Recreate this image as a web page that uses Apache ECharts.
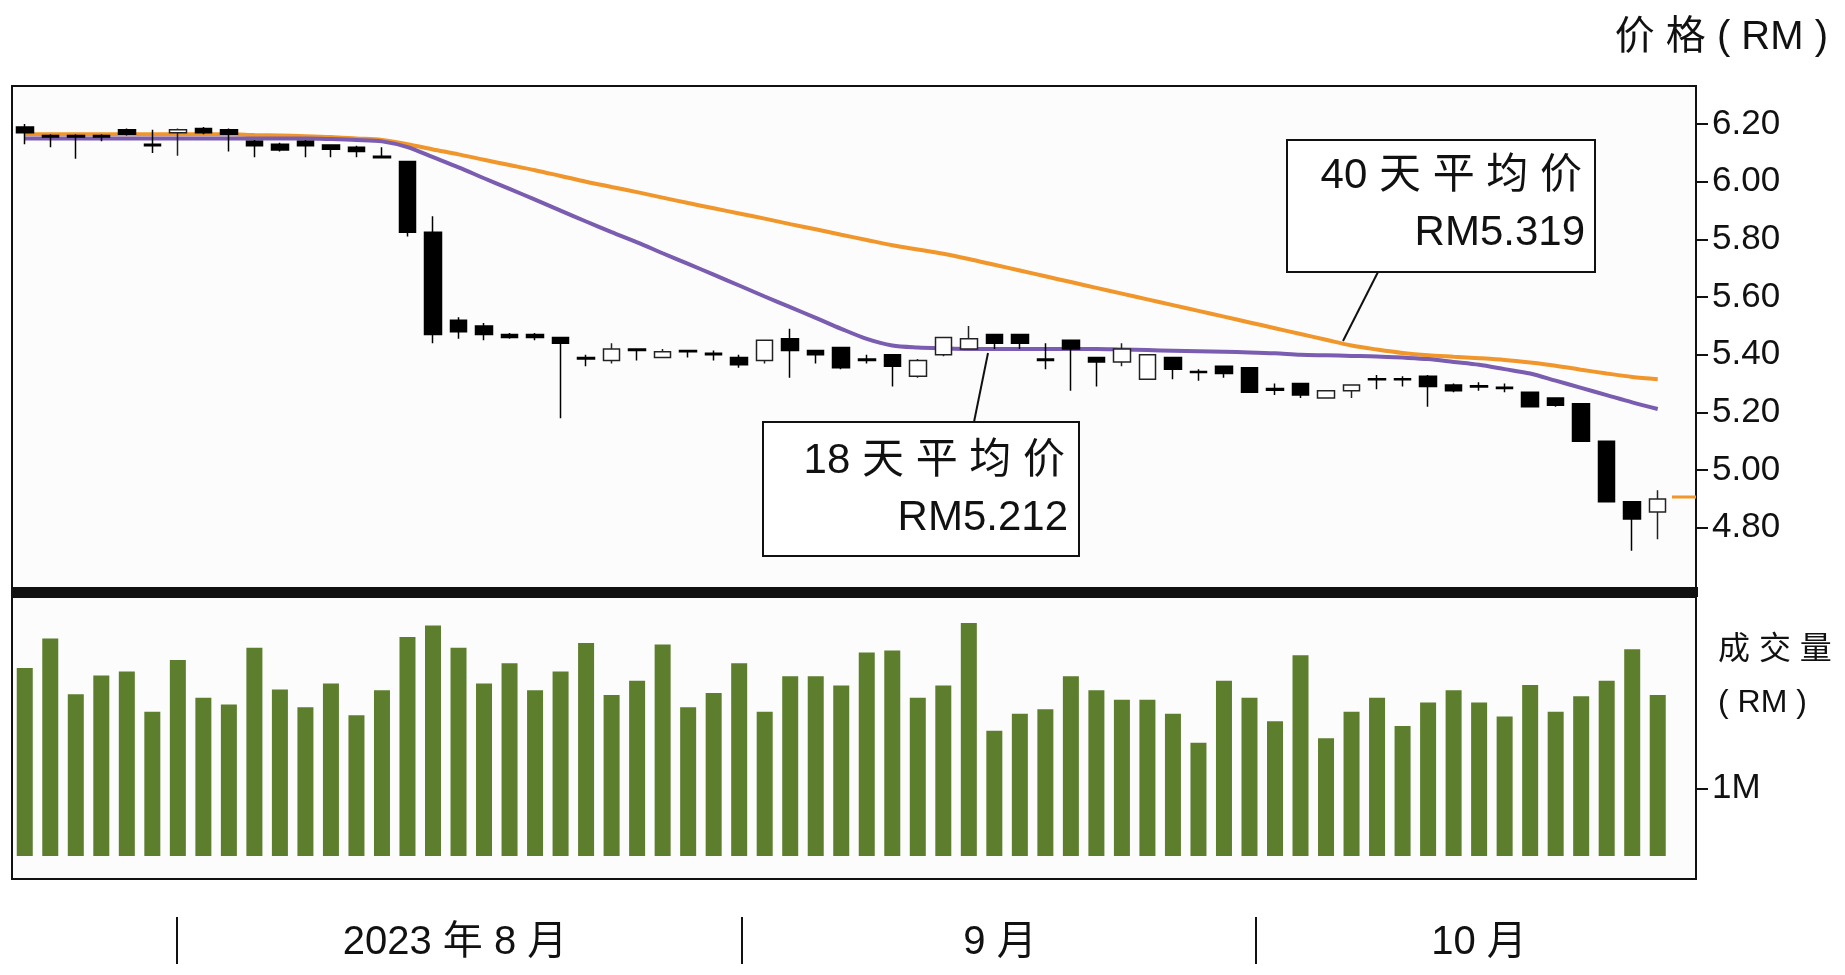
<!DOCTYPE html>
<html><head><meta charset="utf-8">
<script src="https://cdn.jsdelivr.net/npm/echarts@6/dist/echarts.min.js"></script>
<style>html,body{margin:0;padding:0;background:#fff}#c{width:1845px;height:975px}</style>
</head><body><div id="c"></div>
<script>
// [open, close, low, high]
const candles = [
[6.19,6.17,6.13,6.20],[6.16,6.155,6.12,6.165],[6.16,6.155,6.08,6.165],[6.16,6.155,6.14,6.165],[6.18,6.165,6.16,6.185],
[6.13,6.125,6.10,6.18],[6.17,6.18,6.09,6.185],[6.185,6.17,6.165,6.19],[6.18,6.165,6.105,6.185],[6.14,6.125,6.085,6.145],
[6.13,6.11,6.105,6.135],[6.14,6.125,6.085,6.145],[6.127,6.113,6.085,6.13],[6.12,6.105,6.085,6.125],[6.088,6.083,6.083,6.12],
[6.07,5.825,5.81,6.07],[5.825,5.47,5.44,5.88],[5.52,5.48,5.455,5.53],[5.50,5.47,5.45,5.51],[5.47,5.46,5.455,5.475],
[5.47,5.46,5.45,5.475],[5.46,5.44,5.18,5.46],[5.39,5.385,5.36,5.40],[5.38,5.42,5.37,5.44],[5.42,5.415,5.38,5.42],
[5.39,5.41,5.39,5.42],[5.415,5.41,5.39,5.415],[5.405,5.40,5.38,5.415],[5.39,5.365,5.355,5.40],[5.38,5.45,5.37,5.45],
[5.455,5.415,5.32,5.49],[5.415,5.40,5.37,5.415],[5.425,5.355,5.35,5.425],[5.385,5.38,5.37,5.40],[5.40,5.36,5.29,5.40],
[5.325,5.38,5.32,5.385],[5.40,5.46,5.395,5.46],[5.42,5.455,5.42,5.50],[5.47,5.44,5.42,5.47],[5.47,5.44,5.42,5.47],
[5.385,5.38,5.35,5.44],[5.45,5.42,5.275,5.45],[5.39,5.375,5.29,5.39],[5.375,5.42,5.36,5.44],[5.315,5.40,5.315,5.40],
[5.39,5.35,5.315,5.39],[5.342,5.338,5.31,5.35],[5.36,5.335,5.32,5.36],[5.355,5.27,5.27,5.355],[5.283,5.277,5.26,5.30],
[5.30,5.26,5.25,5.30],[5.25,5.275,5.25,5.275],[5.275,5.295,5.25,5.295],[5.317,5.313,5.28,5.33],[5.317,5.313,5.29,5.325],
[5.325,5.29,5.22,5.33],[5.295,5.275,5.27,5.30],[5.292,5.288,5.275,5.305],[5.287,5.283,5.27,5.30],[5.27,5.22,5.22,5.27],
[5.25,5.225,5.22,5.25],[5.23,5.10,5.10,5.23],[5.10,4.89,4.89,5.10],[4.89,4.83,4.72,4.89],[4.855,4.90,4.76,4.93]
];
const volumes = [2.79,3.23,2.40,2.68,2.74,2.14,2.91,2.35,2.25,3.09,2.47,2.21,2.56,2.09,2.46,3.25,3.42,3.09,2.56,2.86,
2.46,2.74,3.16,2.39,2.60,3.14,2.21,2.42,2.86,2.14,2.67,2.67,2.53,3.02,3.05,2.35,2.53,3.46,1.86,2.11,
2.18,2.67,2.46,2.32,2.32,2.11,1.68,2.60,2.35,2.00,2.98,1.75,2.14,2.35,1.93,2.28,2.46,2.28,2.07,2.54,
2.14,2.37,2.60,3.07,2.39];
const ma40 = [6.165,6.165,6.165,6.165,6.165,6.165,6.165,6.165,6.165,6.162,6.16,6.158,6.155,6.15,6.145,
6.13,6.112,6.095,6.076,6.058,6.04,6.02,6.0,5.982,5.964,5.945,5.926,5.908,5.89,5.872,5.853,5.835,5.816,5.798,5.78,5.765,5.75,
5.732,5.712,5.692,5.672,5.652,5.632,5.612,5.592,5.572,5.552,5.532,5.512,5.492,5.472,5.452,5.432,5.418,5.406,5.398,5.393,5.388,5.382,5.373,5.362,5.348,5.335,5.323,5.315];
const ma18 = [6.15,6.15,6.15,6.15,6.15,6.15,6.15,6.15,6.15,6.15,6.15,6.15,6.148,6.145,6.14,
6.12,6.085,6.05,6.012,5.975,5.938,5.9,5.862,5.825,5.79,5.752,5.715,5.678,5.64,5.602,5.565,5.528,5.49,5.455,5.432,
5.425,5.422,5.42,5.42,5.42,5.42,5.42,5.42,5.418,5.416,5.414,5.412,5.41,5.408,5.405,5.4,5.398,5.396,5.394,5.39,5.385,5.375,5.365,5.35,5.335,5.31,5.285,5.26,5.235,5.212];
const cats = candles.map((_, i) => 'D' + (i + 1)).concat(['']);
const priceTicks = [4.8,5.0,5.2,5.4,5.6,5.8,6.0,6.2];
const dateLabels = ['2023 年 8 月','9 月','10 月'];

const chart = echarts.init(document.getElementById('c'));
const F = 'Liberation Sans, "Noto Sans CJK SC", sans-serif';
const txt = (x, y, t, size, align) => ({type:'text', x, y, style:{text:t, fill:'#111', font:`${size}px ${F}`, textAlign:align||'left', textVerticalAlign:'middle'}});
chart.setOption({
  animation:false,
  backgroundColor:'#fff',
  grid:[
    {left:12, top:86, width:1684, height:502, show:true, borderColor:'#111', borderWidth:2, backgroundColor:'#fcfcfc'},
    {left:12, top:597, width:1684, height:282, show:true, borderColor:'#111', borderWidth:2, backgroundColor:'#fcfcfc'}
  ],
  xAxis:[
    {type:'category', gridIndex:0, data:cats, boundaryGap:true, axisLine:{show:false}, axisTick:{show:false}, axisLabel:{show:false}},
    {type:'category', gridIndex:1, data:cats, boundaryGap:true, axisLine:{show:false}, axisTick:{show:false}, axisLabel:{show:false}}
  ],
  yAxis:[
    {type:'value', gridIndex:0, position:'right', min:4.591, max:6.332, splitLine:{show:false},
     axisLine:{show:false}, axisTick:{show:true, length:12, lineStyle:{color:'#111', width:2}, customValues:priceTicks},
     axisLabel:{customValues:priceTicks, formatter:v=>v.toFixed(2), color:'#111', fontSize:35, fontFamily:F, margin:16}},
    {type:'value', gridIndex:1, position:'right', min:-0.34, max:3.844, splitLine:{show:false},
     axisLine:{show:false}, axisTick:{show:true, length:12, lineStyle:{color:'#111', width:2}, customValues:[1]},
     axisLabel:{customValues:[1], formatter:()=> '1M', color:'#111', fontSize:35, fontFamily:F, margin:16}}
  ],
  series:[
    {type:'line', xAxisIndex:0, yAxisIndex:0, data:ma40, showSymbol:false, smooth:0.3, lineStyle:{color:'#f0962a', width:4}, z:2},
    {type:'line', xAxisIndex:0, yAxisIndex:0, data:ma18, showSymbol:false, smooth:0.3, lineStyle:{color:'#7a5cb0', width:4}, z:3},
    {type:'candlestick', xAxisIndex:0, yAxisIndex:0, data:candles.map(c=>[c[0],c[1],c[2],c[3]]), barWidth:17, z:4,
     itemStyle:{color:'#fff', color0:'#000', borderColor:'#222', borderColor0:'#000', borderWidth:1.5}},
    {type:'bar', xAxisIndex:1, yAxisIndex:1, data:volumes, barWidth:16, itemStyle:{color:'#5d7e2c'}}
  ],
  graphic:[
    {type:'rect', shape:{x:11, y:587, width:1687, height:10}, style:{fill:'#111'}},
    {type:'line', shape:{x1:1672, y1:497, x2:1696, y2:497}, style:{stroke:'#f0962a', lineWidth:3}},
    {type:'line', shape:{x1:1378, y1:272, x2:1343, y2:341}, style:{stroke:'#111', lineWidth:2}},
    {type:'rect', shape:{x:1287, y:140, width:308, height:132}, style:{fill:'#fff', stroke:'#111', lineWidth:2}},
    txt(1582, 176, '40 天 平 均 价', 42, 'right'),
    txt(1585, 233, 'RM5.319', 42, 'right'),
    {type:'line', shape:{x1:974, y1:422, x2:988, y2:353}, style:{stroke:'#111', lineWidth:2}},
    {type:'rect', shape:{x:763, y:422, width:316, height:134}, style:{fill:'#fff', stroke:'#111', lineWidth:2}},
    txt(1065, 461, '18 天 平 均 价', 42, 'right'),
    txt(1068, 518, 'RM5.212', 42, 'right'),
    txt(1828, 38, '价 格 ( RM )', 40, 'right'),
    txt(1718, 650, '成 交 量', 32, 'left'),
    txt(1718, 703, '( RM )', 32, 'left'),
    {type:'line', shape:{x1:177, y1:917, x2:177, y2:964}, style:{stroke:'#111', lineWidth:2}},
    {type:'line', shape:{x1:742, y1:917, x2:742, y2:964}, style:{stroke:'#111', lineWidth:2}},
    {type:'line', shape:{x1:1256, y1:917, x2:1256, y2:964}, style:{stroke:'#111', lineWidth:2}},
    txt(455, 943, dateLabels[0], 40, 'center'),
    txt(1000, 943, dateLabels[1], 40, 'center'),
    txt(1479, 943, dateLabels[2], 40, 'center')
  ]
});
</script></body></html>
